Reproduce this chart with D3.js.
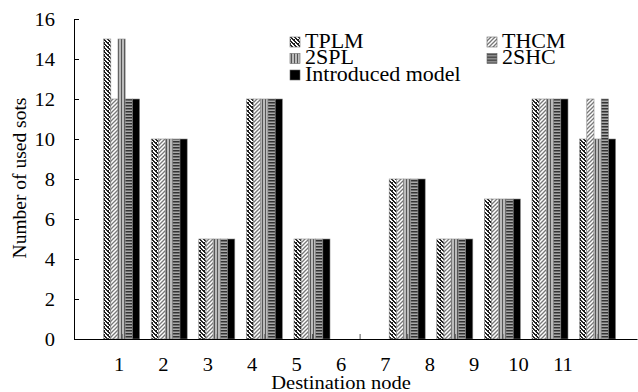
<!DOCTYPE html>
<html>
<head>
<meta charset="utf-8">
<script src="https://cdn.jsdelivr.net/npm/d3@7"></script>
<style>
  html, body { margin: 0; padding: 0; background: #fff; }
  svg { display: block; }
  text { font-family: "Liberation Serif", "Times New Roman", serif; fill: #000; }
</style>
</head>
<body>
<svg id="chart" width="638" height="392"></svg>
<script>
// Destination nodes and slot usage per scheme
const nodes = [1, 2, 3, 4, 5, 6, 7, 8, 9, 10, 11];
const seriesNames = ["TPLM", "THCM", "2SPL", "2SHC", "Introduced model"];
const tplm       = [15, 10, 5, 12, 5, 0, 8, 5, 7, 12, 10];
const thcm       = [12, 10, 5, 12, 5, 0, 8, 5, 7, 12, 12];
const twoSPL     = [15, 10, 5, 12, 5, 0, 8, 5, 7, 12, 10];
const twoSHC     = [12, 10, 5, 12, 5, 0, 8, 5, 7, 12, 12];
const introduced = [12, 10, 5, 12, 5, 0, 8, 5, 7, 12, 10];
const yTicks = [0, 2, 4, 6, 8, 10, 12, 14, 16];

const seriesValues = [tplm, thcm, twoSPL, twoSHC, introduced];
const fills = ["url(#pTPLM)", "url(#pTHCM)", "url(#p2SPL)", "url(#p2SHC)", "#000"];

const svg = d3.select("#chart");
const plotLeft = 74, plotTop = 19, plotBottom = 339, plotRight = 637;
const FS = "19px";      // font size for axis labels
const SX = 1.08;        // slight horizontal widening of the serif type

// Hatch patterns
const defs = svg.append("defs");
const p1 = defs.append("pattern").attr("id", "pTPLM").attr("patternUnits", "userSpaceOnUse")
  .attr("width", 4).attr("height", 4);
p1.append("rect").attr("width", 4).attr("height", 4).attr("fill", "#fff");
p1.append("path").attr("d", "M0,0h2v1h-2z M1,1h2v1h-2z M2,2h2v1h-2z M3,3h1v1h-1z M0,3h1v1h-1z M0,2h1v1h-1z")
  .attr("fill", "#222");
const p2 = defs.append("pattern").attr("id", "pTHCM").attr("patternUnits", "userSpaceOnUse")
  .attr("width", 4).attr("height", 4);
p2.append("rect").attr("width", 4).attr("height", 4).attr("fill", "#fff");
p2.append("path").attr("d", "M-1,1 l2,-2 M0,4 l4,-4 M3,5 l2,-2").attr("stroke", "#777").attr("stroke-width", 1.3);
const p3 = defs.append("pattern").attr("id", "p2SPL").attr("patternUnits", "userSpaceOnUse")
  .attr("width", 3).attr("height", 3);
p3.append("rect").attr("width", 3).attr("height", 3).attr("fill", "#bbb");
p3.append("rect").attr("x", 1).attr("width", 1).attr("height", 3).attr("fill", "#555");
const p4 = defs.append("pattern").attr("id", "p2SHC").attr("patternUnits", "userSpaceOnUse")
  .attr("width", 3).attr("height", 3);
p4.append("rect").attr("width", 3).attr("height", 3).attr("fill", "#aaa");
p4.append("rect").attr("width", 3).attr("height", 1.5).attr("fill", "#333");

// Scales
const step = 47.6;
const x = d3.scaleLinear().domain([0, (plotRight - plotLeft) / step]).range([plotLeft, plotRight]);
const y = d3.scaleLinear().domain([0, 16]).range([plotBottom, plotTop]);
const barW = 7.2;
const xLabel = d3.scalePoint().domain(nodes).range([119, 563]);

// Bars
seriesValues.forEach((vals, s) => {
  svg.append("g").selectAll("rect").data(nodes).join("rect")
    .attr("x", d => x(d) - 2.5 * barW + s * barW)
    .attr("y", (d, i) => y(vals[i]))
    .attr("width", barW)
    .attr("height", (d, i) => y(0) - y(vals[i]))
    .attr("fill", fills[s])
    .attr("stroke", "#888")
    .attr("stroke-width", 0.6);
});

// Y axis
const yAxis = svg.append("g").attr("transform", `translate(${plotLeft},0)`)
  .call(d3.axisLeft(y).tickValues(yTicks).tickSizeInner(-5).tickSizeOuter(0).tickPadding(19));
yAxis.select(".domain").attr("stroke", "#000");
yAxis.selectAll(".tick line").attr("stroke", "#000");
yAxis.selectAll("text").style("font-size", FS).attr("font-family", null)
  .each(function() {
    const t = d3.select(this);
    const tx = +t.attr("x");
    t.attr("x", 0).attr("transform", `translate(${tx},0) scale(${SX},1)`);
  });

// X axis: marks at group centres
const xAxis = svg.append("g").attr("transform", `translate(0,${plotBottom})`)
  .call(d3.axisBottom(x).tickValues(nodes).tickFormat("").tickSizeInner(-5).tickSizeOuter(0));
xAxis.select(".domain").attr("stroke", "#000");
xAxis.selectAll(".tick line").attr("stroke", "#555");

// Category labels
svg.append("g").selectAll("text").data(nodes).join("text")
  .attr("transform", d => `translate(${xLabel(d)},371) scale(${SX},1)`)
  .attr("text-anchor", "middle").style("font-size", FS)
  .text(d => d);

// Axis titles
svg.append("text").attr("transform", `translate(341,389) scale(${SX},1)`).attr("text-anchor", "middle")
  .style("font-size", FS).text("Destination node");
svg.append("text").attr("transform", "translate(26,178) rotate(-90)").attr("text-anchor", "middle")
  .style("font-size", "19.5px").text("Number of used sots");

// Legend
const legendPos = [[290, 37], [487, 37], [290, 53.5], [487, 53.5], [290, 70]];
const lg = svg.append("g").selectAll("g").data(seriesNames).join("g")
  .attr("transform", (d, i) => `translate(${legendPos[i][0]},${legendPos[i][1]})`);
lg.append("rect").attr("width", 10).attr("height", 10)
  .attr("fill", (d, i) => fills[i]).attr("stroke", "#666").attr("stroke-width", 0.6);
lg.append("text").attr("transform", "translate(15,10.5) scale(1.1,1)").style("font-size", "20px").text(d => d);
</script>
</body>
</html>
